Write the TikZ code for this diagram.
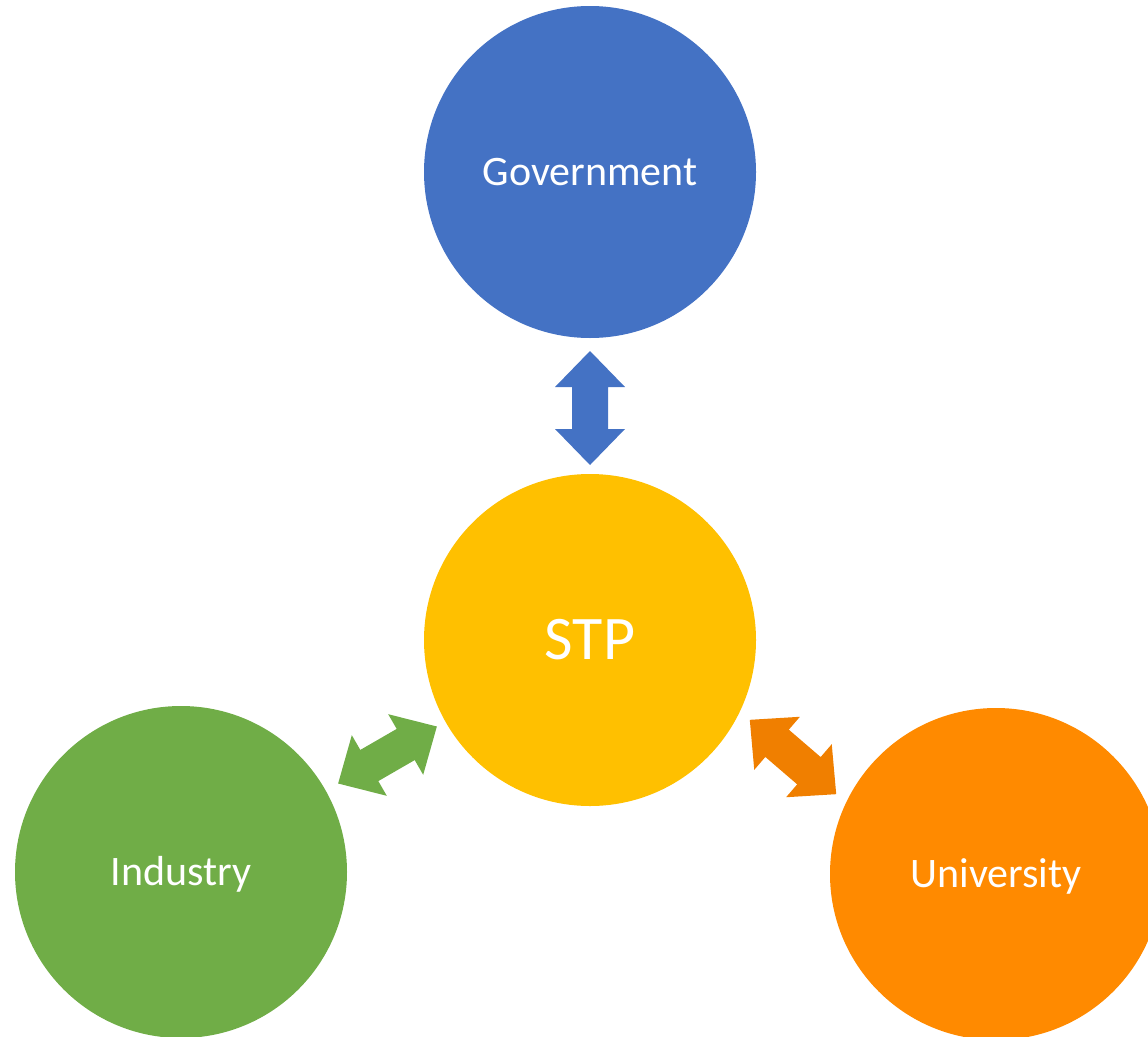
\documentclass[tikz,border=0pt]{standalone}
\usepackage{fontspec}
\setmainfont{Carlito}
\usetikzlibrary{calc}
\definecolor{govblue}{HTML}{4472C4}
\definecolor{stpgold}{HTML}{FFC000}
\definecolor{indgreen}{HTML}{70AD47}
\definecolor{uniorange}{HTML}{FF8A00}
\definecolor{arroworange}{HTML}{F07F00}
\tikzset{
  blob/.style={circle, minimum size=332pt, inner sep=0pt, text=white,
    font=\fontsize{42}{50}\selectfont, text height=27pt, text depth=0pt},
  dblarrow/.pic={\fill[#1] (-57,0) -- (-21,35) -- (-21,18) -- (21,18) -- (21,35)
     -- (57,0) -- (21,-35) -- (21,-18) -- (-21,-18) -- (-21,-35) -- cycle;}
}
\begin{document}
\begin{tikzpicture}[x=1pt,y=-1pt]
\useasboundingbox (0,0) rectangle (1148,1036);
\clip (0,0) rectangle (1148,1036);
\node[blob, fill=govblue] (gov) at (590,172) {Government};
\node[blob, fill=stpgold, font=\fontsize{62}{72}\selectfont, text height=39pt] (stp) at (590,640) {STP};
\node[blob, fill=indgreen] (ind) at (181,872) {Industry};
\node[blob, fill=uniorange] (uni) at (996,874) {University};
\path ($(gov)!0.5!(stp)+(0,2)$) pic[rotate=90] {dblarrow=govblue};
\path ($(stp)!0.5!(ind)+(2,-1)$) pic[rotate=30] {dblarrow=indgreen};
\path ($(stp)!0.5!(uni)$) pic[rotate=-40.7] {dblarrow=arroworange};
\end{tikzpicture}
\end{document}
